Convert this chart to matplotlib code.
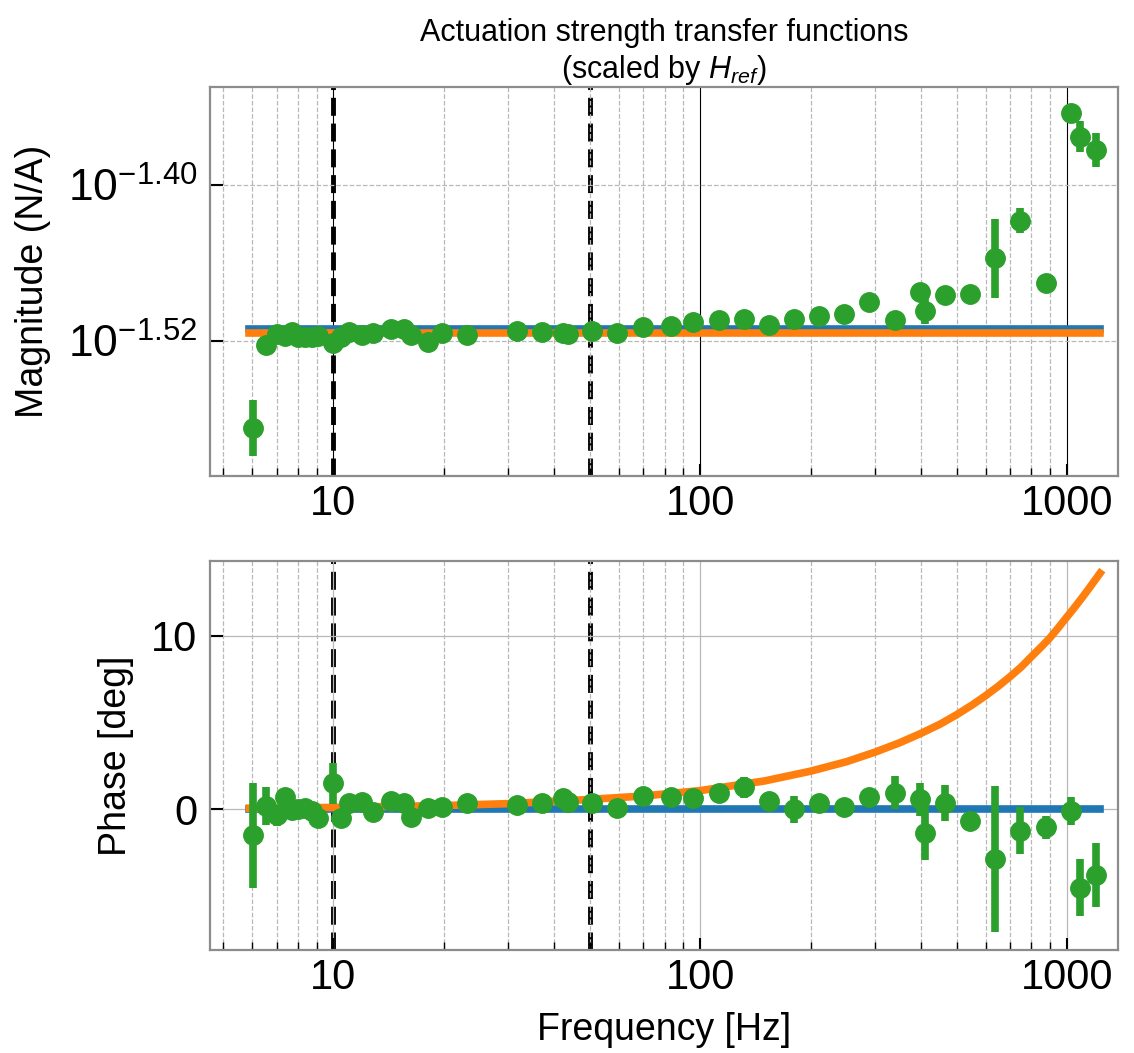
import numpy as np
import matplotlib
matplotlib.use('Agg')
import matplotlib.pyplot as plt
from matplotlib.ticker import FixedLocator, FixedFormatter, LogLocator, NullFormatter, NullLocator

plt.rcParams['font.family'] = ['Liberation Sans', 'DejaVu Sans']
plt.rcParams['mathtext.fontset'] = 'custom'
plt.rcParams['mathtext.rm'] = 'Liberation Sans'
plt.rcParams['mathtext.it'] = 'Liberation Sans:italic'
plt.rcParams['mathtext.bf'] = 'Liberation Sans:bold'

# 测量点 (Hz)
freq = [6.02, 6.56, 7.0, 7.39, 7.71, 8.03, 8.37, 8.73, 9.1,
        10.0, 10.5, 11.0, 12.0, 12.85, 14.4, 15.6, 16.3, 18.1, 19.8,
        23.1, 31.7, 37.1, 42.2, 43.5, 50.7, 59.5, 69.9,
        83.0, 95.7, 112.2, 131.4, 153.8, 180, 210.8, 246.7, 289.3, 339,
        396.9, 410.3, 464.4, 543.8, 636.7, 745.5, 876.1, 1023, 1082, 1200]

# 幅值 (log10 N/A)
mag_log10 = [-1.5877, -1.5233, -1.5149, -1.5164, -1.5130, -1.5169, -1.5169, -1.5174, -1.5164,
             -1.5221, -1.5174, -1.5130, -1.5156, -1.5138, -1.5112, -1.5112, -1.5156, -1.5210, -1.5138,
             -1.5156, -1.5123, -1.5130, -1.5138, -1.5149, -1.5123, -1.5143, -1.5097,
             -1.5087, -1.5059, -1.5041, -1.5033, -1.5079, -1.5033, -1.5010, -1.4994, -1.4905, -1.5038,
             -1.4822, -1.4969, -1.4848, -1.4843, -1.4565, -1.4275, -1.4753, -1.3443, -1.3628, -1.3730]
mag_err_log10 = [0.0216, 0.002, 0.002, 0.002, 0.002, 0.002, 0.002, 0.002, 0.002,
                 0.002, 0.002, 0.002, 0.002, 0.002, 0.002, 0.002, 0.002, 0.002, 0.002,
                 0.002, 0.002, 0.002, 0.002, 0.002, 0.002, 0.002, 0.002,
                 0.002, 0.002, 0.002, 0.002, 0.002, 0.002, 0.002, 0.002, 0.002, 0.002,
                 0.003, 0.0103, 0.002, 0.002, 0.0303, 0.0095, 0.002, 0.003, 0.012, 0.013]

# 相位 (deg)
phase_deg = [-1.50, 0.21, -0.33, 0.69, -0.04, 0.0, 0.06, -0.08, -0.52,
             1.50, -0.52, 0.35, 0.40, -0.13, 0.48, 0.38, -0.42, 0.06, 0.12,
             0.38, 0.25, 0.38, 0.63, 0.44, 0.35, 0.06, 0.77,
             0.69, 0.67, 0.96, 1.27, 0.50, 0.0, 0.38, 0.12, 0.73, 0.96,
             0.58, -1.34, 0.38, -0.67, -2.86, -1.23, -1.04, -0.08, -4.51, -3.78]
phase_err = [3.04, 1.09, 0.6, 0.3, 0.3, 0.3, 0.3, 0.3, 0.3,
             1.19, 0.3, 0.3, 0.3, 0.3, 0.3, 0.3, 0.3, 0.3, 0.3,
             0.3, 0.3, 0.3, 0.3, 0.3, 0.3, 0.3, 0.3,
             0.3, 0.3, 0.3, 0.62, 0.3, 0.77, 0.3, 0.3, 0.3, 0.94,
             0.96, 1.58, 1.03, 0.35, 4.21, 1.35, 0.67, 0.82, 1.65, 1.87]

# 模型曲线
model_freq = [5.9, 1230]
ref_mag_log10 = [-1.5109, -1.5109]
model_mag_log10 = [-1.5139, -1.5139]
ref_phase = [0.0, 0.0]
model_phase_freq = [5.9, 10, 20, 30, 47, 70, 100, 150, 200, 250, 300, 350, 400, 450, 500, 550,
                    600, 650, 700, 750, 800, 850, 900, 950, 1000, 1050, 1100, 1150, 1230]
model_phase = [0.07, 0.11, 0.22, 0.33, 0.54, 0.77, 1.08, 1.64, 2.2, 2.74, 3.3, 3.84, 4.38, 4.9,
               5.45, 6.0, 6.55, 7.1, 7.65, 8.2, 8.8, 9.35, 9.9, 10.5, 11.09, 11.65, 12.2, 12.75, 13.6]

marker_freqs = [10, 50]

BLUE, ORANGE, GREEN = '#1f77b4', '#ff7f0e', '#2ca02c'

fig = plt.figure(figsize=(11.34, 10.53), dpi=100)
ax1 = fig.add_axes([0.1852, 0.548, 0.8007, 0.3691])
ax2 = fig.add_axes([0.1852, 0.0978, 0.8007, 0.3697])

# --- 幅值 ---
m = np.array(mag_log10)
e = np.array(mag_err_log10)
y = 10 ** m
yerr = [y - 10 ** (m - e), 10 ** (m + e) - y]
ax1.plot(model_freq, 10 ** np.array(ref_mag_log10), color=BLUE, lw=5.5, zorder=2)
ax1.plot(model_freq, 10 ** np.array(model_mag_log10), color=ORANGE, lw=5.5, zorder=2.1)
ax1.errorbar(freq, y, yerr=yerr, fmt='o', color=GREEN, ms=14, elinewidth=5.5, capsize=0, zorder=3)
ax1.set_yscale('log')
ax1.set_ylim(10 ** -1.6243, 10 ** -1.3247)
ax1.yaxis.set_major_locator(FixedLocator([10 ** -1.52, 10 ** -1.40]))
ax1.yaxis.set_major_formatter(FixedFormatter([r'$10^{-1.52}$', r'$10^{-1.40}$']))
ax1.yaxis.set_minor_locator(NullLocator())
ax1.set_ylabel('Magnitude (N/A)', fontsize=27, labelpad=12.5)
ax1.set_title('Actuation strength transfer functions\n(scaled by $H_{ref}$)', fontsize=22, pad=7)
ax1.grid(which='major', axis='x', color='black', ls='-', lw=0.8)
ax1.grid(which='minor', axis='x', color='#b8b8b8', ls='--', lw=0.9)
ax1.grid(which='major', axis='y', color='#b8b8b8', ls='--', lw=0.9)

# --- 相位 ---
ax2.plot(model_freq, ref_phase, color=BLUE, lw=5.5, zorder=2)
ax2.plot(model_phase_freq, model_phase, color=ORANGE, lw=5.5, zorder=2.1)
ax2.errorbar(freq, phase_deg, yerr=phase_err, fmt='o', color=GREEN, ms=14, elinewidth=5.5, capsize=0, zorder=3)
ax2.set_ylim(-8.10, 14.32)
ax2.yaxis.set_major_locator(FixedLocator([0, 10]))
ax2.set_ylabel('Phase [deg]', fontsize=27, labelpad=12.5)
ax2.set_xlabel('Frequency [Hz]', fontsize=27, labelpad=10)
ax2.grid(which='major', color='#b8b8b8', ls='-', lw=0.9)
ax2.grid(which='minor', axis='x', color='#b8b8b8', ls='--', lw=0.9)

for ax in (ax1, ax2):
    for f in marker_freqs:
        ax.axvline(f, color='black', ls='--', lw=3.5, zorder=1)
    ax.set_xscale('log')
    ax.set_xlim(4.61, 1377)
    ax.xaxis.set_major_locator(FixedLocator([10, 100, 1000]))
    ax.xaxis.set_major_formatter(FixedFormatter(['10', '100', '1000']))
    ax.xaxis.set_minor_locator(LogLocator(base=10, subs=np.arange(2, 10)))
    ax.xaxis.set_minor_formatter(NullFormatter())
    ax.tick_params(which='major', direction='in', length=9, width=1.5, labelsize=30)
    ax.tick_params(which='minor', direction='in', length=6, width=1)
    ax.tick_params(axis='y', which='major', pad=9)
    ax.tick_params(axis='x', which='major', pad=6)
    for s in ax.spines.values():
        s.set_color('#8c8c8c')
        s.set_linewidth(1.6)

# 上图的 y 刻度标签稍大一些
ax1.tick_params(axis='y', which='major', labelsize=32)

fig.savefig('out.png', dpi=100)
